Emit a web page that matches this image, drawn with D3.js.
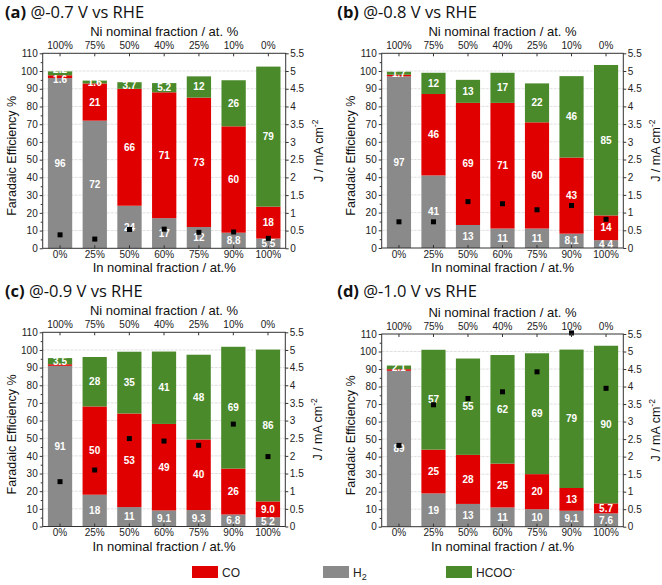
<!DOCTYPE html>
<html><head><meta charset="utf-8">
<script src="https://cdn.jsdelivr.net/npm/d3@7/dist/d3.min.js"></script>
<style>body{margin:0;background:#fff;} svg{display:block;font-family:"Liberation Sans",Arial,sans-serif}</style>
</head><body><svg id="c" width="662" height="585"></svg>
<script>
// ---------- data ----------
const inLabels = ["0%","25%","50%","60%","75%","90%","100%"];
const niLabels = ["100%","75%","50%","40%","25%","10%","0%"];
const panelLetters = ["(a)","(b)","(c)","(d)"];
const panelTitles = ["@-0.7 V vs RHE","@-0.8 V vs RHE","@-0.9 V vs RHE","@-1.0 V vs RHE"];
const seriesKeys = ["H2","CO","HCOO"];
const seriesColors = ["#8a8a8a","#e10000","#4a8a2b"];

const h2_07   = [96, 72, 24, 17, 12, 8.8, 5.5];
const co_07   = [1.6, 21, 66, 71, 73, 60, 18];
const hcoo_07 = [2.2, 1.6, 3.7, 5.2, 12, 26, 79];
const j_07    = [0.38, 0.26, 0.53, 0.54, 0.45, 0.46, 0.28];

const h2_08   = [97, 41, 13, 11, 11, 8.1, 4.4];
const co_08   = [0.9, 46, 69, 71, 60, 43, 14];
const hcoo_08 = [1.7, 12, 13, 17, 22, 46, 85];
const j_08    = [0.74, 0.74, 1.31, 1.25, 1.08, 1.2, 0.81];

const h2_09   = [91, 18, 11, 9.1, 9.3, 6.8, 5.2];
const co_09   = [0.9, 50, 53, 49, 40, 26, 9.0];
const hcoo_09 = [3.5, 28, 35, 41, 48, 69, 86];
const j_09    = [1.27, 1.6, 2.49, 2.42, 2.3, 2.9, 1.98];

const h2_10   = [89, 19, 13, 11, 10, 9.1, 7.6];
const co_10   = [0.9, 25, 28, 25, 20, 13, 5.7];
const hcoo_10 = [2.1, 57, 55, 62, 69, 79, 90];
const j_10    = [2.32, 3.48, 3.66, 3.85, 4.42, 5.53, 3.95];

const feTicks = [0,10,20,30,40,50,60,70,80,90,100,110];
const jTicks = [0,0.5,1,1.5,2,2.5,3,3.5,4,4.5,5,5.5];

const panelData = [
  {h2:h2_07, co:co_07, hcoo:hcoo_07, j:j_07},
  {h2:h2_08, co:co_08, hcoo:hcoo_08, j:j_08},
  {h2:h2_09, co:co_09, hcoo:hcoo_09, j:j_09},
  {h2:h2_10, co:co_10, hcoo:hcoo_10, j:j_10}
];

// ---------- layout ----------
const layouts = [
  {x0:42.7, x1:285.7, y0:53.3, y1:248.3, tx:5,     ty:18},
  {x0:381.7,x1:623.3, y0:53.3, y1:248,   tx:337.3, ty:18},
  {x0:42.7, x1:285.3, y0:332.3,y1:526.5, tx:5,     ty:297},
  {x0:381.7,x1:623.3, y0:334,  y1:526.7, tx:337.3, ty:297}
];

const svg = d3.select("#c");
const fmt = v => v < 10 ? v.toFixed(1) : String(Math.round(v));
const axisColor = "#333";

panelData.forEach((pd, pi) => {
  const L = layouts[pi];
  const g = svg.append("g");
  const x = d3.scaleBand().domain(inLabels).range([L.x0, L.x1]).paddingInner(0.3).paddingOuter(0.15);
  const xTop = d3.scaleBand().domain(niLabels).range([L.x0, L.x1]).paddingInner(0.3).paddingOuter(0.15);
  const y = d3.scaleLinear().domain([0,110]).range([L.y1, L.y0]);
  const yJ = d3.scaleLinear().domain([0,5.5]).range([L.y1, L.y0]);

  // gridlines
  g.append("g").selectAll("line").data(feTicks.filter(t => t > 0 && t < 110)).join("line")
    .attr("x1", L.x0).attr("x2", L.x1).attr("y1", d => y(d)).attr("y2", d => y(d))
    .attr("stroke", "#e0e0e0").attr("stroke-width", 1).attr("stroke-dasharray", "3,1");

  const rows = inLabels.map((c, i) => ({cat:c, H2:pd.h2[i], CO:pd.co[i], HCOO:pd.hcoo[i]}));
  const stacked = d3.stack().keys(seriesKeys)(rows);

  // bars
  stacked.forEach((s, si) => {
    g.append("g").selectAll("rect").data(s).join("rect")
      .attr("x", d => x(d.data.cat))
      .attr("width", x.bandwidth())
      .attr("y", d => y(d[1]))
      .attr("height", d => y(d[0]) - y(d[1]))
      .attr("fill", seriesColors[si]);
  });

  // segment labels (small stacked segments nudged apart, as in the source)
  stacked.forEach((s, si) => {
    g.append("g").selectAll("text").data(s.filter(d => (d[1]-d[0]) >= 1)).join("text")
      .attr("x", d => x(d.data.cat) + x.bandwidth()/2)
      .attr("y", d => {
        const h = d[1]-d[0];
        let yy = y((d[0]+d[1])/2);
        if (h < 2 && si === 1 && d.data.HCOO < 3) yy += 3;
        if (h < 3 && si === 2 && d.data.CO < 3 && d.data.CO >= 1) yy -= 4;
        return yy;
      })
      .attr("text-anchor", "middle").attr("dominant-baseline", "central")
      .attr("font-size", 10).attr("font-weight", "bold").attr("fill", "#fff")
      .text(d => fmt(d[1]-d[0]));
  });

  // J points
  g.append("g").selectAll("rect").data(inLabels.map((c,i)=>({cat:c, j:pd.j[i]}))).join("rect")
    .attr("x", d => x(d.cat) + x.bandwidth()/2 - 2.5)
    .attr("y", d => yJ(d.j) - 2.5)
    .attr("width", 5).attr("height", 5).attr("fill", "#000");

  // axes
  const aL = g.append("g").attr("transform", `translate(${L.x0},0)`)
    .call(d3.axisLeft(y).tickValues(feTicks).tickSize(3).tickPadding(2));
  g.append("g").attr("transform", `translate(${L.x0},0)`)
    .call(d3.axisLeft(y).tickValues(d3.range(5,110,10)).tickSize(2).tickFormat(""));
  const aR = g.append("g").attr("transform", `translate(${L.x1},0)`)
    .call(d3.axisRight(yJ).tickValues(jTicks).tickSize(3).tickPadding(1.5).tickFormat(d3.format("~g")));
  const aB = g.append("g").attr("transform", `translate(0,${L.y1})`)
    .call(d3.axisBottom(x).tickSize(-3).tickPadding(2.5));
  const aT = g.append("g").attr("transform", `translate(0,${L.y0})`)
    .call(d3.axisTop(xTop).tickSize(-3).tickPadding(4));
  [aL, aR, aB, aT].forEach(a => {
    a.selectAll("text").attr("font-size", 10).attr("fill", "#222").attr("font-family", "Liberation Sans, Arial, sans-serif");
    a.selectAll("line").attr("stroke", axisColor);
  });
  g.selectAll(".tick line").attr("stroke", axisColor);
  g.selectAll("path.domain").remove();

  // frame
  g.append("rect").attr("x", L.x0).attr("y", L.y0).attr("width", L.x1 - L.x0).attr("height", L.y1 - L.y0)
    .attr("fill", "none").attr("stroke", axisColor).attr("stroke-width", 1);

  // axis titles
  const cx = (L.x0 + L.x1) / 2, cy = (L.y0 + L.y1) / 2;
  g.append("text").attr("x", cx).attr("y", L.y0 - 17.5).attr("text-anchor", "middle")
    .attr("font-size", 13).attr("fill", "#111").text("Ni nominal fraction / at. %");
  g.append("text").attr("x", cx).attr("y", L.y1 + 24).attr("text-anchor", "middle")
    .attr("font-size", 13).attr("fill", "#111").text("In nominal fraction / at.%");
  g.append("text").attr("transform", `translate(${L.x0 - 26.5},${cy + 5}) rotate(-90)`)
    .attr("text-anchor", "middle").attr("font-size", 12.5).attr("fill", "#111")
    .text("Faradaic Efficiency %");
  const jt = g.append("text").attr("transform", `translate(${L.x1 + 37},${cy}) rotate(-90)`)
    .attr("text-anchor", "middle").attr("font-size", 12.5).attr("fill", "#111");
  jt.append("tspan").text("J / mA cm");
  jt.append("tspan").attr("dy", -5).attr("font-size", 8.5).text("-2");

  // panel title
  const tt = svg.append("text").attr("x", L.tx).attr("y", L.ty)
    .attr("font-family", "Open Sans, sans-serif").attr("font-size", 16.5).attr("fill", "#111");
  tt.append("tspan").attr("font-weight", "bold").text(panelLetters[pi]);
  tt.append("tspan").text(" " + panelTitles[pi]);
});

// ---------- legend ----------
const legendItems = [
  {x:192, color:seriesColors[1], main:"CO"},
  {x:323, color:seriesColors[0], main:"H", sub:"2"},
  {x:446, color:seriesColors[2], main:"HCOO", sup:"-"}
];
const lg = svg.append("g");
legendItems.forEach(it => {
  lg.append("rect").attr("x", it.x).attr("y", 566).attr("width", 26).attr("height", 12).attr("fill", it.color);
  const t = lg.append("text").attr("x", it.x + 30).attr("y", 576.5).attr("font-size", 12).attr("fill", "#222");
  t.append("tspan").text(it.main);
  if (it.sub) t.append("tspan").attr("dy", 3.5).attr("font-size", 9).text(it.sub);
  if (it.sup) t.append("tspan").attr("dy", -5).attr("font-size", 9).text(it.sup);
});
</script>
</body></html>
